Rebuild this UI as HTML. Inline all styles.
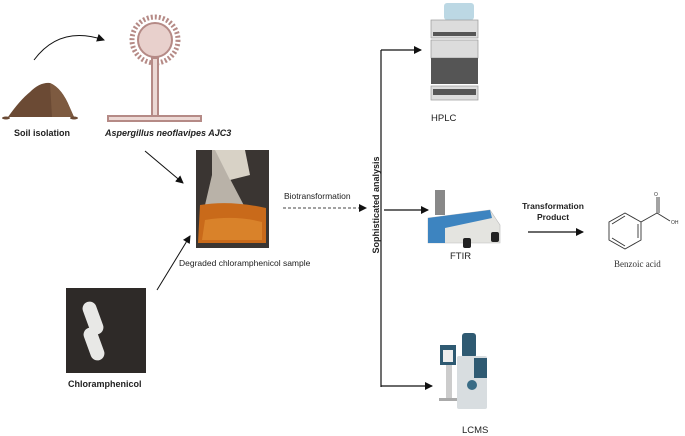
<!DOCTYPE html>
<html><head><meta charset="utf-8"><style>
html,body{margin:0;padding:0;background:#fff;}
svg{display:block;}
text{font-family:"Liberation Sans",sans-serif;}
</style></head><body>
<svg width="685" height="436" viewBox="0 0 685 436" xmlns="http://www.w3.org/2000/svg">
<defs>
<marker id="ah" markerWidth="8" markerHeight="8" refX="7" refY="4" orient="auto" markerUnits="userSpaceOnUse"><path d="M0,0 L8,4 L0,8 z" fill="#111"/></marker>
</defs>
<!-- soil -->
<path d="M8,117 Q20,100 30,92 Q40,82 50,83 Q62,88 70,108 L74,117 Z" fill="#6b4a34"/>
<path d="M50,83 Q62,88 70,108 L74,117 L52,117 Z" fill="#7d5a40"/>
<ellipse cx="6" cy="118" rx="4" ry="1.5" fill="#6b4a34"/><ellipse cx="74" cy="118" rx="4" ry="1.5" fill="#6b4a34"/>
<text x="14" y="136" font-size="9" font-weight="bold" fill="#222">Soil isolation</text>
<path d="M34,60 Q60,25 104,40" fill="none" stroke="#111" stroke-width="1" marker-end="url(#ah)"/>
<!-- fungus -->
<g fill="none" stroke="#b58a86" stroke-width="2">
<circle cx="155" cy="40" r="17" fill="#e8d0cc"/>
<circle cx="155" cy="40" r="23" stroke-dasharray="2 2" stroke-width="5"/>
<rect x="152" y="58" width="6" height="60" fill="#ecd8d4"/>
<rect x="108" y="116" width="93" height="5" fill="#ecd8d4"/>
</g>
<text x="105" y="136" font-size="9" font-weight="bold" font-style="italic" fill="#222">Aspergillus neoflavipes AJC3</text>
<line x1="145" y1="151" x2="183" y2="183" stroke="#111" stroke-width="1" marker-end="url(#ah)"/>
<!-- flask photo -->
<rect x="196" y="150" width="73" height="98" fill="#3a3532"/>
<path d="M212,150 L228,150 L228,175 L262,240 L200,240 L205,205 L212,175Z" fill="#b9b2a8"/>
<path d="M200,205 Q230,200 266,208 L266,243 L198,243 Z" fill="#c96a1a"/>
<path d="M205,220 Q235,215 262,222 L262,240 L202,240 Z" fill="#d9822a"/>
<path d="M215,150 L245,150 L250,175 L230,180 Z" fill="#d8d2c6"/>
<text x="179" y="266" font-size="8.5" fill="#222">Degraded chloramphenicol sample</text>
<line x1="157" y1="290" x2="190" y2="236" stroke="#111" stroke-width="1" marker-end="url(#ah)"/>
<!-- chloramphenicol photo -->
<rect x="66" y="288" width="80" height="85" fill="#2e2a28"/>
<rect x="86" y="301" width="14" height="34" rx="7" fill="#e8e8e6" transform="rotate(-20 93 318)"/>
<rect x="87" y="327" width="14" height="34" rx="7" fill="#e8e8e6" transform="rotate(-20 94 344)"/>
<text x="68" y="387" font-size="9" font-weight="bold" fill="#222">Chloramphenicol</text>
<!-- biotransformation -->
<text x="284" y="199" font-size="8.5" fill="#222">Biotransformation</text>
<line x1="283" y1="208" x2="366" y2="208" stroke="#444" stroke-width="1" stroke-dasharray="3 2" marker-end="url(#ah)"/>
<!-- main bracket -->
<line x1="381" y1="50" x2="381" y2="387" stroke="#111" stroke-width="1.2"/>
<line x1="381" y1="50" x2="421" y2="50" stroke="#111" stroke-width="1.2" marker-end="url(#ah)"/>
<line x1="384" y1="210" x2="428" y2="210" stroke="#111" stroke-width="1.2" marker-end="url(#ah)"/>
<line x1="381" y1="386" x2="432" y2="386" stroke="#111" stroke-width="1.2" marker-end="url(#ah)"/>
<text transform="translate(379,205) rotate(-90)" text-anchor="middle" font-size="9" font-weight="bold" fill="#222">Sophisticated analysis</text>
<!-- HPLC -->
<rect x="444" y="3" width="30" height="17" rx="3" fill="#bcd8e4"/>
<rect x="431" y="20" width="47" height="18" fill="#dcdcdc" stroke="#999" stroke-width="0.7"/>
<rect x="433" y="32" width="43" height="4" fill="#555"/>
<rect x="431" y="40" width="47" height="18" fill="#dcdcdc" stroke="#999" stroke-width="0.7"/>
<rect x="431" y="58" width="47" height="26" fill="#555"/>
<rect x="431" y="86" width="47" height="14" fill="#dcdcdc" stroke="#999" stroke-width="0.7"/>
<rect x="433" y="89" width="43" height="6" fill="#555"/>
<text x="431" y="121" font-size="9.5" fill="#222">HPLC</text>
<!-- FTIR -->
<rect x="435" y="190" width="10" height="25" fill="#888"/>
<path d="M428,218 L490,210 L500,225 L500,243 L428,243 Z" fill="#e4e4e0" stroke="#bbb" stroke-width="0.6"/>
<path d="M428,218 L490,210 L492,218 L445,228 L445,243 L428,243 Z" fill="#3d84c0"/>
<rect x="463" y="238" width="8" height="10" rx="2" fill="#222"/><rect x="491" y="232" width="8" height="10" rx="2" fill="#222"/>
<text x="450" y="259" font-size="9.5" fill="#222">FTIR</text>
<!-- transformation -->
<text x="553" y="209" text-anchor="middle" font-size="8.5" font-weight="bold" fill="#222">Transformation</text>
<text x="553" y="220" text-anchor="middle" font-size="8.5" font-weight="bold" fill="#222">Product</text>
<line x1="528" y1="232" x2="583" y2="232" stroke="#111" stroke-width="1.2" marker-end="url(#ah)"/>
<!-- benzoic acid -->
<g fill="none" stroke="#333" stroke-width="0.9">
<polygon points="625,213 641,222 641,240 625,249 609,240 609,222"/>
<line x1="638" y1="224" x2="638" y2="238"/><line x1="612" y1="238" x2="625" y2="246"/><line x1="612" y1="224" x2="625" y2="216"/>
<line x1="641" y1="222" x2="657" y2="213"/>
<line x1="657" y1="213" x2="657" y2="197"/><line x1="659" y1="213" x2="659" y2="197"/>
<line x1="657" y1="213" x2="670" y2="221"/>
</g>
<text x="654" y="196" font-size="5" fill="#333">O</text>
<text x="671" y="224" font-size="5" fill="#333">OH</text>
<text x="614" y="267" font-size="9" font-family="Liberation Serif,serif" fill="#333" style="font-family:'Liberation Serif',serif">Benzoic acid</text>
<!-- LCMS -->
<rect x="440" y="345" width="16" height="20" fill="#2f5a72"/>
<rect x="443" y="350" width="10" height="12" fill="#eee"/>
<rect x="446" y="365" width="6" height="35" fill="#ccc"/>
<rect x="439" y="398" width="18" height="3" fill="#aaa"/>
<rect x="462" y="333" width="14" height="25" rx="3" fill="#2f5a72"/>
<rect x="457" y="356" width="30" height="53" rx="2" fill="#d8dde0"/>
<rect x="474" y="358" width="13" height="20" fill="#2f5a72"/>
<circle cx="472" cy="385" r="5" fill="#3a6c86"/>
<text x="462" y="433" font-size="9.5" fill="#222">LCMS</text>
</svg>
</body></html>
